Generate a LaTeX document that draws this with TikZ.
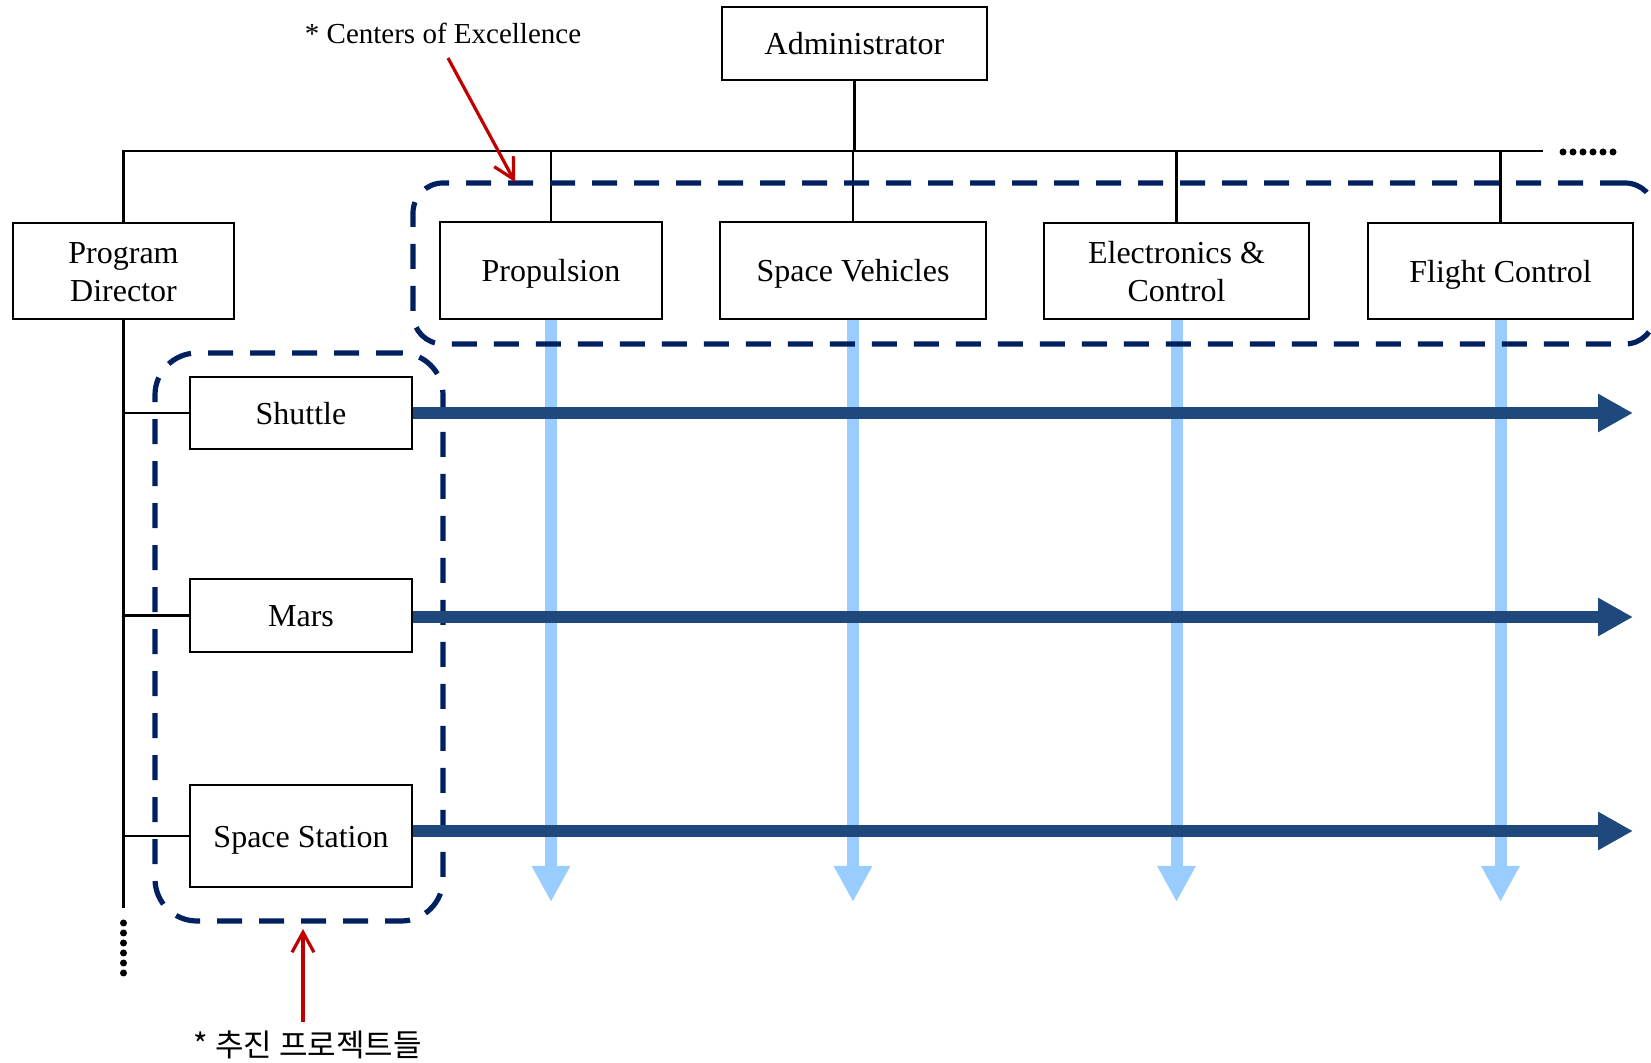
\documentclass[tikz,border=0pt]{standalone}
\usepackage{fontspec}
\setmainfont{Liberation Serif}
\newfontfamily\krfont{Noto Sans CJK KR}
\usetikzlibrary{arrows.meta}
\definecolor{navy}{RGB}{0,32,96}
\definecolor{flowdark}{RGB}{31,73,125}
\definecolor{flowlight}{RGB}{153,204,255}
\definecolor{notered}{RGB}{192,0,0}

\begin{document}
\begin{tikzpicture}[x=0.5pt,y=-0.5pt,
  orgbox/.style={draw, line width=1.1pt, fill=white, inner sep=0pt,
    font=\fontsize{16}{19}\selectfont, align=center},
  onebox/.style={orgbox, text height=11.4pt, text depth=0pt},
  wire/.style={line width=1.1pt},
  groupbox/.style={draw=navy, line width=2.6pt, dash pattern=on 12.5pt off 8.5pt,
    inner sep=0pt},
  programflow/.style={draw=flowdark, line width=6pt,
    -{Triangle[length=17.5pt,width=18pt]}},
  disciplineflow/.style={draw=flowlight, line width=6pt,
    -{Triangle[length=18pt,width=18pt]}},
  callout/.style={draw=notered, line width=1.6pt,
    -{Straight Barb[length=10pt,width=11pt]}},
  note/.style={anchor=base, inner sep=0pt},
]
\useasboundingbox (0,0) rectangle (1651,1063);

% reference points for the bus lines and arrow ends
\coordinate (busend) at (1543,151);
\coordinate (pdend) at (123.5,908);
\coordinate (flowtip) at (1633,0);
\coordinate (downtip) at (0,902);

% organisation boxes
\node[onebox, minimum width=132.5pt, minimum height=36.5pt] (admin) at (854.5,43.5) {Administrator};
\node[orgbox, minimum width=110.5pt, minimum height=48pt] (pd) at (123.5,271) {\rule{0pt}{12pt}Program\\Director};
\node[onebox, minimum width=111pt, minimum height=48.5pt] (prop) at (551,270.5) {Propulsion};
\node[onebox, minimum width=133pt, minimum height=48.5pt] (sv) at (853,270.5) {Space Vehicles};
\node[orgbox, minimum width=132.5pt, minimum height=48pt] (ec) at (1176.5,271) {\rule{0pt}{12pt}Electronics \&\\Control};
\node[onebox, minimum width=132.5pt, minimum height=48pt] (fc) at (1500.5,271) {Flight Control};
\node[onebox, minimum width=111pt, minimum height=36pt] (shuttle) at (301,413) {Shuttle};
\node[onebox, minimum width=111pt, minimum height=36.5pt] (mars) at (301,615.5) {Mars};
\node[onebox, minimum width=111pt, minimum height=51pt] (station) at (301,836) {Space Station};

% reporting lines
\draw[wire] (admin.south) -- (admin.south |- busend);
\draw[wire] (pd.north) -- (pd.north |- busend) -- (busend);
\foreach \b in {prop,sv,ec,fc}
  \draw[wire] (\b.north) -- (\b.north |- busend);
\draw[wire] (pd.south) -- (pdend);
\foreach \b in {shuttle,mars,station}
  \draw[wire] (\b.west) -- (\b.west -| pd.south);

% continuation dots
\foreach \i in {0,...,5} {
  \fill (1563+\i*10,152) circle (1.75pt);
  \fill (123.5,923+\i*10) circle (1.75pt);
}

% discipline flows
\foreach \b in {prop,sv,ec,fc}
  \draw[disciplineflow] (\b.south) -- (\b.south |- downtip);

% groupings
\node[groupbox, rounded corners=15pt, minimum width=621pt, minimum height=80.5pt] (coe) at (1034,263.5) {};
\node[groupbox, rounded corners=21pt, minimum width=144pt, minimum height=284pt] (projects) at (299,637) {};

% program flows
\draw[programflow] (shuttle.east) -- (shuttle.east -| flowtip);
\draw[programflow] ([yshift=-0.75pt]mars.east) -- ([yshift=-0.75pt]mars.east -| flowtip);
\draw[programflow] ([yshift=2.5pt]station.east) -- ([yshift=2.5pt]station.east -| flowtip);

% annotations
\node[note, font=\fontsize{14.5}{17}\selectfont] (coelabel) at (443,44) {* Centers of Excellence};
\node[note, font=\krfont\fontsize{15.5}{18}\selectfont] (projlabel) at (308,1056) {* 추진 프로젝트들};
\coordinate (coestart) at (448,58);
\coordinate (coetip) at (515,182);
\coordinate (projstart) at (303,1022);
\coordinate (projtip) at (303,929);
\draw[callout] (coestart) -- (coetip);
\draw[callout] (projstart) -- (projtip);
\end{tikzpicture}
\end{document}
